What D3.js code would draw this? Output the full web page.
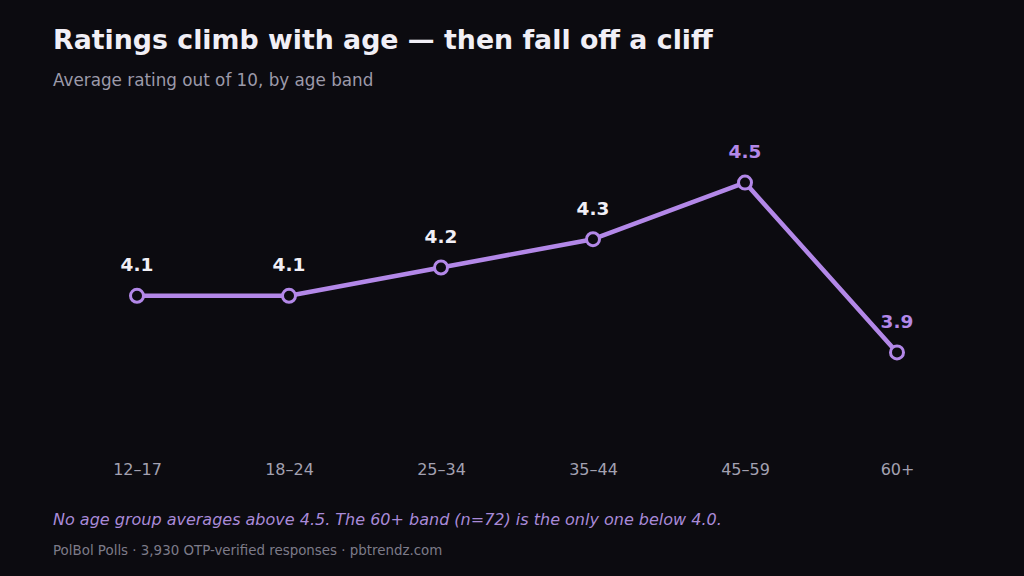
<!DOCTYPE html>
<html>
<head>
<meta charset="utf-8">
<script src="https://cdn.jsdelivr.net/npm/d3@7"></script>
<style>
  html, body { margin: 0; padding: 0; background: #0c0b10; }
  svg { display: block; font-family: "DejaVu Sans", sans-serif; }
</style>
</head>
<body>
<svg id="chart" width="1024" height="576"></svg>
<script>
// age bands and average rating
var bands = ["12–17", "18–24", "25–34", "35–44", "45–59", "60+"];
var ratings = [4.1, 4.1, 4.2, 4.3, 4.5, 3.9];
var highlight = ["45–59", "60+"];

var width = 1024, height = 576;
var bg = "#0c0b10", purple = "#b388e8";

var svg = d3.select("#chart");

svg.append("rect")
    .attr("width", width)
    .attr("height", height)
    .attr("fill", bg);

var x = d3.scalePoint()
    .domain(bands)
    .range([61, 973])
    .padding(0.5);

var y = d3.scaleLinear()
    .domain([3.7, 4.7])
    .range([409, 126]);

var data = bands.map(function(d, i) { return {band: d, value: ratings[i]}; });

// titles
svg.append("text")
    .attr("x", 53).attr("y", 49)
    .attr("fill", "#f1eff6")
    .style("font-size", "26.8px")
    .style("font-weight", "bold")
    .text("Ratings climb with age — then fall off a cliff");

svg.append("text")
    .attr("x", 53).attr("y", 86)
    .attr("fill", "#9c9aaa")
    .style("font-size", "16.8px")
    .text("Average rating out of 10, by age band");

// x axis labels, no line
var xAxis = svg.append("g")
    .attr("transform", "translate(0,475)")
    .call(d3.axisBottom(x).tickSize(0).tickPadding(0));
xAxis.select(".domain").remove();
xAxis.selectAll("text")
    .attr("dy", 0)
    .attr("fill", "#a3a1b1")
    .style("font-size", "16px")
    .style("font-family", "DejaVu Sans, sans-serif");

var line = d3.line()
    .x(function(d) { return x(d.band); })
    .y(function(d) { return y(d.value); });

svg.append("path")
    .datum(data)
    .attr("fill", "none")
    .attr("stroke", purple)
    .attr("stroke-width", 4.5)
    .attr("stroke-linejoin", "round")
    .attr("d", line);

svg.append("g")
    .selectAll("circle")
    .data(data)
    .enter().append("circle")
      .attr("cx", function(d) { return x(d.band); })
      .attr("cy", function(d) { return y(d.value); })
      .attr("r", 6.5)
      .attr("fill", bg)
      .attr("stroke", purple)
      .attr("stroke-width", 3);

svg.append("g")
    .selectAll("text")
    .data(data)
    .enter().append("text")
      .attr("x", function(d) { return x(d.band); })
      .attr("y", function(d) { return y(d.value) - 24.5; })
      .attr("text-anchor", "middle")
      .attr("fill", function(d) { return highlight.indexOf(d.band) != -1 ? purple : "#f1eff6"; })
      .style("font-size", "18.5px")
      .style("font-weight", "bold")
      .text(function(d) { return d.value.toFixed(1); });

// footnotes
svg.append("text")
    .attr("x", 53).attr("y", 525)
    .attr("fill", "#a98ad8")
    .style("font-size", "16px")
    .style("font-style", "italic")
    .text("No age group averages above 4.5. The 60+ band (n=72) is the only one below 4.0.");

svg.append("text")
    .attr("x", 53).attr("y", 555)
    .attr("fill", "#7d7b89")
    .style("font-size", "13.4px")
    .text("PolBol Polls · 3,930 OTP-verified responses · pbtrendz.com");
</script>
</body>
</html>
